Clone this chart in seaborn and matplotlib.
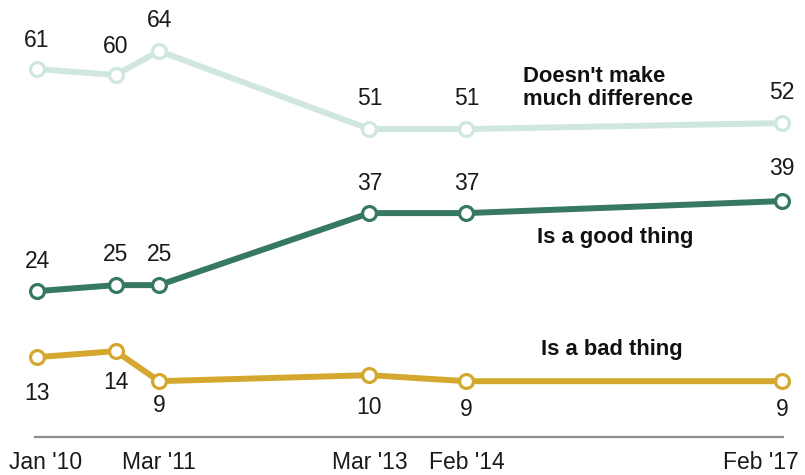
import matplotlib
matplotlib.use("Agg")
import matplotlib.pyplot as plt
import matplotlib.transforms as mtransforms
import matplotlib.dates as mdates
import seaborn as sns
import pandas as pd

dates = ["2010-01-01", "2010-10-01", "2011-03-01", "2013-03-01", "2014-02-01", "2017-02-01"]
no_difference = [61, 60, 64, 51, 51, 52]
good_thing = [24, 25, 25, 37, 37, 39]
bad_thing = [13, 14, 9, 10, 9, 9]
tick_dates = ["2010-01-01", "2011-03-01", "2013-03-01", "2014-02-01", "2017-02-01"]
tick_labels = ["Jan '10", "Mar '11", "Mar '13", "Feb '14", "Feb '17"]

series_names = ["Doesn't make\nmuch difference", "Is a good thing", "Is a bad thing"]
colors = ["#cfe6e1", "#367864", "#d4a82f"]

sns.set_style("white")
plt.rcParams["font.family"] = ["Liberation Sans", "DejaVu Sans"]

x = pd.to_datetime(dates)
df = pd.DataFrame({
    "date": list(x) * 3,
    "value": no_difference + good_thing + bad_thing,
    "series": [series_names[0]] * 6 + [series_names[1]] * 6 + [series_names[2]] * 6,
})

fig = plt.figure(figsize=(8.05, 4.75), dpi=100)
W, H = 805, 475
ax = fig.add_axes([35 / W, (H - 437) / H, 748 / W, 437 / H])

for name, c in zip(series_names, colors):
    sub = df[df["series"] == name]
    sns.lineplot(data=sub, x="date", y="value", ax=ax, color=c, linewidth=4.3,
                 marker="o", markersize=10, markerfacecolor="white",
                 markeredgecolor=c, markeredgewidth=2.3, legend=False, clip_on=False)

d0 = mdates.date2num(x[0])
d1 = mdates.date2num(x[-1])
ax.set_xlim(d0 - 7, d1 + 3.5)
ax.set_ylim(-0.3, 72.5)

NUM = "#1a1a1a"

# value labels
def label(vals, offsets):
    for xi, v, off in zip(x, vals, offsets):
        ax.annotate(str(v), (xi, v), xytext=(0, off), textcoords="offset pixels",
                    ha="center", va="center", fontsize=16.5, color=NUM)

label(no_difference, [29, 29, 31, 31, 31, 31])
label(good_thing, [30, 31, 31, 30, 30, 33])
label(bad_thing, [-36, -31, -24, -32, -28, -28])

# series labels placed in axes pixel coordinates
def px(xp, yp):
    # convert figure pixel (from top-left) to axes fraction
    return ((xp - 35) / 748, (437 - yp) / 437)

ax.text(*px(523, 88), series_names[0], transform=ax.transAxes, ha="left", va="center",
        fontsize=15.8, fontweight="bold", color="#111111", linespacing=1.12)
ax.text(*px(615, 238), series_names[1], transform=ax.transAxes, ha="center", va="center",
        fontsize=15.8, fontweight="bold", color="#111111")
ax.text(*px(612, 350), series_names[2], transform=ax.transAxes, ha="center", va="center",
        fontsize=15.8, fontweight="bold", color="#111111")

ax.set_xticks(mdates.date2num(pd.to_datetime(tick_dates)))
ax.set_xticklabels(tick_labels, fontsize=16.5, color=NUM)
ax.tick_params(axis="x", length=0, pad=10)
ax.set_yticks([])
ax.set_xlabel("")
ax.set_ylabel("")
for s in ["top", "right", "left"]:
    ax.spines[s].set_visible(False)
ax.spines["bottom"].set_color("#8c8c8c")
ax.spines["bottom"].set_linewidth(1.6)

labels = ax.get_xticklabels()
labels[0].set_transform(labels[0].get_transform() + mtransforms.ScaledTranslation(9 / 100, 0, fig.dpi_scale_trans))
labels[-1].set_transform(labels[-1].get_transform() + mtransforms.ScaledTranslation(-21 / 100, 0, fig.dpi_scale_trans))

fig.savefig("out.png", dpi=100)
